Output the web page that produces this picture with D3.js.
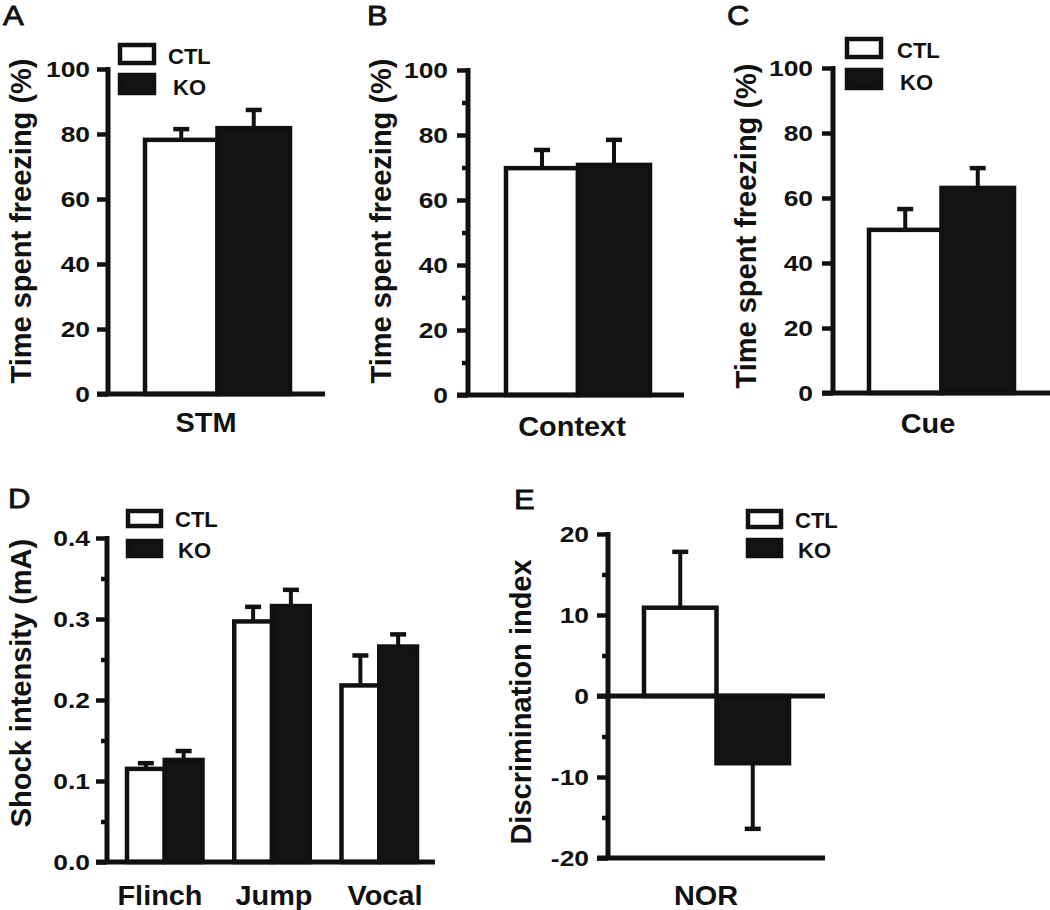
<!DOCTYPE html>
<html><head><meta charset="utf-8">
<script src="https://cdn.jsdelivr.net/npm/d3@7"></script>
<style>html,body{margin:0;padding:0;background:#fff;}svg{display:block;}</style>
</head><body>
<script>
// ---------- DATA ----------
const series = ["CTL", "KO"];

const catsA = ["STM"];
const ctlA = [78.2], koA = [81.8], ctlErrA = [3.3], koErrA = [5.6];

const catsB = ["Context"];
const ctlB = [69.8], koB = [70.8], ctlErrB = [5.6], koErrB = [7.7];

const catsC = ["Cue"];
const ctlC = [50.2], koC = [63.1], ctlErrC = [6.4], koErrC = [6.1];

const catsD = ["Flinch", "Jump", "Vocal"];
const ctlD = [0.115, 0.297, 0.218], koD = [0.126, 0.316, 0.266];
const ctlErrD = [0.007, 0.018, 0.037], koErrD = [0.011, 0.020, 0.015];

const catsE = ["NOR"];
const ctlE = [10.9], koE = [-8.3], ctlErrE = [6.9], koErrE = [8.1];

const ticksFreeze = [0, 20, 40, 60, 80, 100];
const minorFreeze = [10, 30, 50, 70, 90];
const ticksShock = [0, 0.1, 0.2, 0.3, 0.4];
const minorShock = [0.05, 0.15, 0.25, 0.35];
const ticksDI = [-20, -10, 0, 10, 20];
const minorDI = [-15, -5, 5, 15];

const titleFreeze = "Time spent freezing (%)";
const titleShock = "Shock intensity (mA)";
const titleDI = "Discrimination index";

// ---------- DRAW ----------
const W = 1050, H = 910;
const FONT = "'Liberation Sans', Arial, Helvetica, sans-serif";
const svg = d3.select("body").append("svg").attr("width", W).attr("height", H);

function txt(g, x, y, s, o) {
  const t = g.append("text")
    .attr("transform", `translate(${x},${y})` + (o.rot ? ` rotate(${o.rot})` : "") + ` scale(${o.sx || 1},1)`)
    .attr("font-family", FONT)
    .attr("font-size", o.size)
    .attr("font-weight", o.weight || "bold")
    .attr("text-anchor", o.anchor || "start")
    .attr("fill", "#111")
    .text(s);
  if (o.mid) t.attr("dominant-baseline", "central");
  if (o.stroke) t.attr("stroke", "#111").attr("stroke-width", o.stroke);
  return t;
}

function panel(cfg) {
  const g = svg.append("g");
  const y = d3.scaleLinear().domain(cfg.domain).range([cfg.yBot, cfg.yTop]);
  const x = d3.scaleBand().domain(cfg.cats).range(cfg.xRange).paddingInner(cfg.padIn || 0);
  const xi = d3.scaleBand().domain(series).range([0, x.bandwidth()]);

  const rows = [];
  cfg.cats.forEach((c, i) => {
    rows.push({c, s: "CTL", v: cfg.ctl[i], e: cfg.ctlErr[i]});
    rows.push({c, s: "KO", v: cfg.ko[i], e: cfg.koErr[i]});
  });
  const bw = xi.bandwidth();
  // error bars
  rows.forEach(r => {
    const cx = x(r.c) + xi(r.s) + bw / 2;
    const sign = r.v >= 0 ? 1 : -1;
    const y1 = y(r.v), y2 = y(r.v + sign * r.e);
    g.append("line").attr("x1", cx).attr("x2", cx).attr("y1", y1).attr("y2", y2)
      .attr("stroke", "#111").attr("stroke-width", 4);
    g.append("line").attr("x1", cx - 8).attr("x2", cx + 8).attr("y1", y2).attr("y2", y2)
      .attr("stroke", "#111").attr("stroke-width", 4.5);
  });
  // bars
  rows.forEach(r => {
    const y0 = y(0), yv = y(r.v);
    g.append("rect")
      .attr("x", x(r.c) + xi(r.s))
      .attr("y", Math.min(y0, yv))
      .attr("width", bw)
      .attr("height", Math.abs(y0 - yv))
      .attr("fill", r.s === "CTL" ? "#fff" : "#141414")
      .attr("stroke", "#111").attr("stroke-width", 4.5);
  });

  // y axis
  const ax = g.append("g").attr("transform", `translate(${cfg.axisX},0)`)
    .call(d3.axisLeft(y).tickValues(cfg.ticks).tickSize(11).tickSizeOuter(0).tickPadding(0)
      .tickFormat(cfg.fmt || (d => String(d))));
  ax.select(".domain").attr("stroke", "#111").attr("stroke-width", 5)
    .attr("d", `M0,${cfg.yBot + 2}V${cfg.yTop - 2}`);
  ax.selectAll(".tick line").attr("stroke", "#111").attr("stroke-width", 4.5);
  ax.selectAll(".tick text")
    .attr("x", null).attr("dy", "0.36em")
    .attr("transform", `translate(${-cfg.gap},0) scale(1.2,1)`)
    .attr("font-family", FONT).attr("font-size", 22).attr("font-weight", "bold").attr("fill", "#111");
  if (cfg.minor) {
    const mx = g.append("g").attr("transform", `translate(${cfg.axisX},0)`)
      .call(d3.axisLeft(y).tickValues(cfg.minor).tickSize(6).tickSizeOuter(0).tickFormat(""));
    mx.select(".domain").remove();
    mx.selectAll(".tick line").attr("stroke", "#111").attr("stroke-width", 4.5);
  }

  // x axis lines
  (cfg.hlines || [0]).forEach(v => {
    g.append("line").attr("x1", cfg.axisX - 11).attr("x2", cfg.xEnd)
      .attr("y1", y(v)).attr("y2", y(v)).attr("stroke", "#111").attr("stroke-width", 5);
  });

  // category labels
  cfg.cats.forEach((c, i) => {
    txt(g, cfg.catX ? cfg.catX[i] : x(c) + x.bandwidth() / 2, cfg.catY, c, {size: 27, anchor: "middle", sx: 1.07});
  });

  // y title
  txt(g, cfg.titleX, cfg.titleY, cfg.title, {size: 29, anchor: "middle", rot: -90, mid: true});

  // panel letter
  txt(g, cfg.letterX, cfg.letterY, cfg.letter, {size: 27, weight: "normal", sx: 1.15, stroke: 0.8});

  // legend
  if (cfg.legend) {
    const L = cfg.legend;
    series.forEach((s, k) => {
      const by = L.y + k * L.step;
      g.append("rect").attr("x", L.x + 2).attr("y", by + 2).attr("width", L.w - 4).attr("height", L.h - 4)
        .attr("fill", s === "CTL" ? "#fff" : "#141414").attr("stroke", "#111").attr("stroke-width", 4.5);
      txt(g, L.tx + (k ? L.kdx : 0), by + L.h - 1 + (k ? 1 : 0), s, {size: 22});
    });
  }
}

panel({cats: catsA, ctl: ctlA, ko: koA, ctlErr: ctlErrA, koErr: koErrA,
  domain: [0, 100], yBot: 394, yTop: 69, xRange: [145, 290], axisX: 108, xEnd: 325,
  ticks: ticksFreeze, gap: 18, catY: 432, catX: [206],
  title: titleFreeze, titleX: 21, titleY: 221, letter: "A", letterX: 3, letterY: 25,
  legend: {x: 118, y: 43, w: 38, h: 22, step: 30, tx: 168, kdx: 5}});

panel({cats: catsB, ctl: ctlB, ko: koB, ctlErr: ctlErrB, koErr: koErrB,
  domain: [0, 100], yBot: 395, yTop: 70, xRange: [506, 650], axisX: 468, xEnd: 684,
  ticks: ticksFreeze, minor: minorFreeze, gap: 20, catY: 436, catX: [572],
  title: titleFreeze, titleX: 381, titleY: 221, letter: "B", letterX: 367, letterY: 25});

panel({cats: catsC, ctl: ctlC, ko: koC, ctlErr: ctlErrC, koErr: koErrC,
  domain: [0, 100], yBot: 393, yTop: 68, xRange: [869, 1014], axisX: 833, xEnd: 1050,
  ticks: ticksFreeze, gap: 20, catY: 433, catX: [928],
  title: titleFreeze, titleX: 746, titleY: 226, letter: "C", letterX: 727, letterY: 25,
  legend: {x: 845, y: 37, w: 38, h: 22, step: 31, tx: 897, kdx: 3}});

panel({cats: catsD, ctl: ctlD, ko: koD, ctlErr: ctlErrD, koErr: koErrD,
  domain: [0, 0.4], yBot: 862, yTop: 538, xRange: [127, 417], padIn: 0.296, axisX: 107, xEnd: 435,
  ticks: ticksShock, minor: minorShock, fmt: d3.format(".1f"), gap: 17, catY: 905, catX: [160, 274, 385],
  title: titleShock, titleX: 21, titleY: 683, letter: "D", letterX: 8, letterY: 508,
  legend: {x: 126, y: 509, w: 37, h: 19, step: 30, tx: 175, kdx: 3}});

panel({cats: catsE, ctl: ctlE, ko: koE, ctlErr: ctlErrE, koErr: koErrE,
  domain: [-20, 20], yBot: 858, yTop: 534, xRange: [644, 789], axisX: 608, xEnd: 825,
  ticks: ticksDI, minor: minorDI, hlines: [0, -20], gap: 19, catY: 905, catX: [706],
  title: titleDI, titleX: 521, titleY: 702, letter: "E", letterX: 514, letterY: 509,
  legend: {x: 746, y: 509, w: 37, h: 20, step: 29, tx: 795, kdx: 3}});
</script>
</body></html>
